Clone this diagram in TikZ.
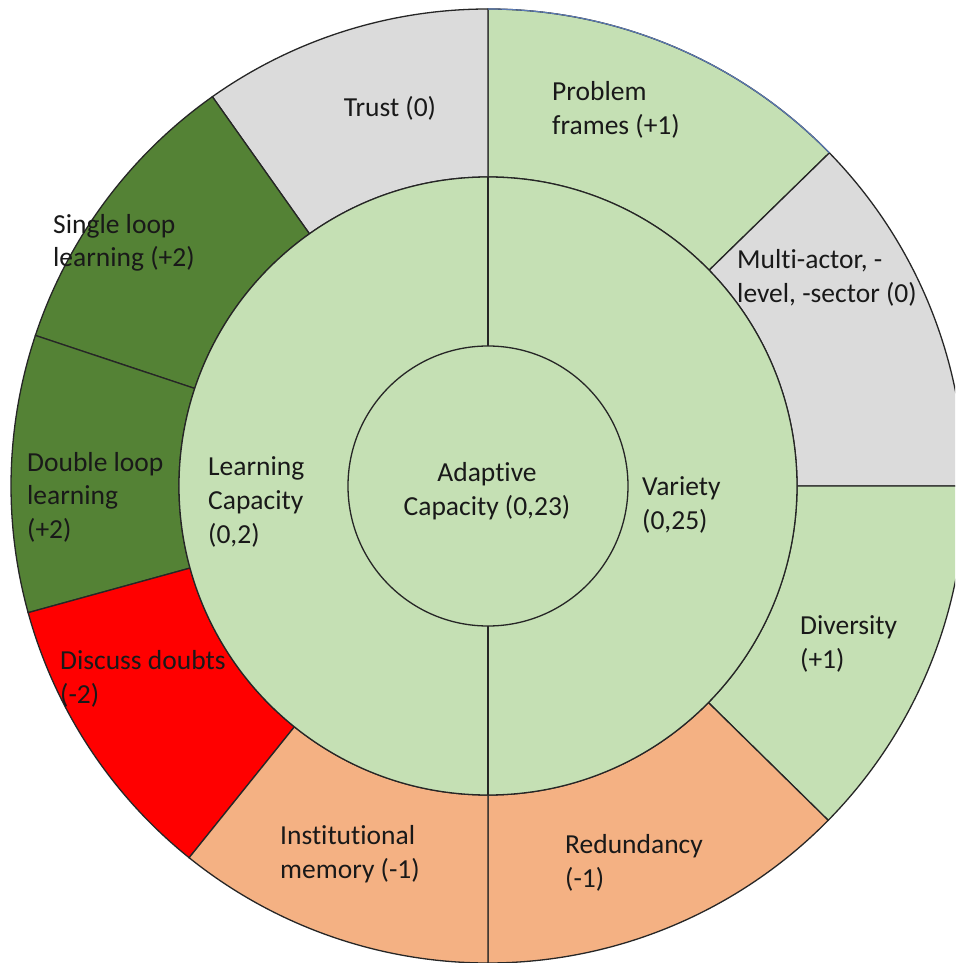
\documentclass[tikz,border=0pt]{standalone}
\usepackage{fontspec}
\setmainfont{Carlito}[Ligatures=NoCommon]
\definecolor{lgreen}{HTML}{C5E0B4}
\definecolor{lgray}{HTML}{DBDBDB}
\definecolor{dgreen}{HTML}{548235}
\definecolor{bred}{HTML}{FF0000}
\definecolor{lorange}{HTML}{F4B183}
\definecolor{edgeblue}{HTML}{5B7BB5}
\def\Rout{477}
\def\Rmid{309}
\def\Rin{140}
\newcommand\mysector[3]{%
  \filldraw[fill=#3, draw=black!85, line width=1.3pt]
    (#1:\Rmid) arc[start angle=#1, end angle=#2, radius=\Rmid]
    -- (#2:\Rout) arc[start angle=#2, end angle=#1, radius=\Rout] -- cycle;}
\begin{document}
\begin{tikzpicture}[x=1pt,y=1pt,
  lbl/.style={inner sep=0pt, align=left, anchor=west, text=black!90,
    font=\fontsize{27.5}{33.6}\selectfont},
  clbl/.style={lbl, align=center, anchor=center}]
\useasboundingbox (-488,-477) rectangle (467,486);
\fill[white] (-488,-477) rectangle (467,486);
\clip (-488,-477) rectangle (467,486);
% right half (Variety)
\mysector{44.3}{90}{lgreen}
\mysector{0}{44.3}{lgray}
\mysector{-44.5}{0}{lgreen}
\mysector{-90}{-44.5}{lorange}
% left half (Learning capacity)
\mysector{90}{125.3}{lgray}
\mysector{125.3}{161.6}{dgreen}
\mysector{161.6}{195.4}{dgreen}
\mysector{195.4}{231.2}{bred}
\mysector{231.2}{270}{lorange}
\draw[edgeblue, line width=1.1pt] (90:\Rout) arc[start angle=90, end angle=44.3, radius=\Rout];
% middle ring
\filldraw[fill=lgreen, draw=black!85, line width=1.3pt] (0,0) circle[radius=\Rmid];
\draw[black!85, line width=1.3pt] (90:\Rin) -- (90:\Rmid);
\draw[black!85, line width=1.3pt] (270:\Rin) -- (270:\Rmid);
% inner circle
\filldraw[fill=lgreen, draw=black!85, line width=1.3pt] (0,0) circle[radius=\Rin];
% labels
\node[clbl] (adaptive) at (-1,-5) {Adaptive\\Capacity (0,23)};
\node[lbl] (learning) at (-280,-16) {Learning\\Capacity\\(0,2)};
\node[lbl] (variety) at (154,-19) {Variety\\(0,25)};
\node[clbl] (trust) at (-98,378) {Trust (0)};
\node[lbl] (problem) at (64,376) {Problem\\frames (+1)};
\node[lbl] (multi) at (249,208) {Multi-actor, -\\level, -sector (0)};
\node[lbl] (diversity) at (312,-158) {Diversity\\(+1)};
\node[lbl] (redundancy) at (77,-377) {Redundancy\\(-1)};
\node[lbl] (institutional) at (-208,-368) {Institutional\\memory (-1)};
\node[lbl] (discuss) at (-428,-193) {Discuss doubts\\(-2)};
\node[lbl] (double) at (-461,-11) {Double loop\\learning\\(+2)};
\node[lbl] (single) at (-435,243) {Single loop\\learning (+2)};
\end{tikzpicture}
\end{document}
